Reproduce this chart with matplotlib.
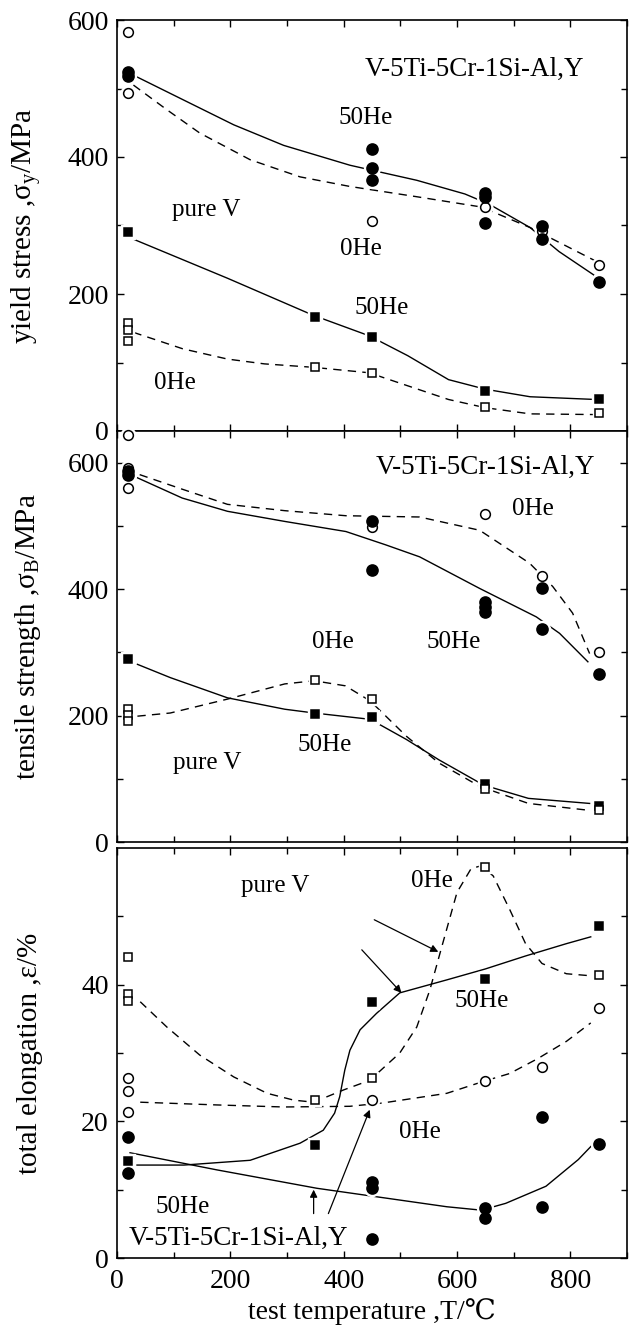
import matplotlib
matplotlib.use("Agg")
import matplotlib.pyplot as plt
from matplotlib.ticker import MultipleLocator, FixedLocator

plt.rcParams['font.family'] = ['Liberation Serif', 'DejaVu Serif', 'DejaVu Sans']
plt.rcParams['mathtext.fontset'] = 'custom'
plt.rcParams['mathtext.rm'] = 'Liberation Serif'
plt.rcParams['mathtext.it'] = 'Liberation Serif:italic'

# ---------------- Panel 1: yield stress ----------------
ys_alloy0_T = [20, 20, 450, 650, 750, 850]
ys_alloy0_v = [583, 494, 307, 327, 292, 243]
ys_alloy50_T = [20, 20, 450, 450, 450, 650, 650, 650, 750, 750, 850]
ys_alloy50_v = [524, 518, 411, 384, 366, 347, 341, 304, 299, 280, 217]
ys_V50_T = [20, 350, 450, 650, 850]
ys_V50_v = [290, 166, 137, 58, 46]
ys_V0_T = [20, 20, 20, 350, 450, 650, 850]
ys_V0_v = [157, 147, 132, 93, 85, 35, 27]

ys_alloy50_curve_T = [35, 118, 206, 294, 411, 459, 529, 614, 657, 729, 780, 841]
ys_alloy50_curve_v = [517, 483, 447, 417, 388, 379, 366, 346, 331, 297, 262, 228]
ys_alloy0_curve_T = [29, 88, 146, 235, 323, 411, 529, 643, 729, 845]
ys_alloy0_curve_v = [505, 469, 435, 396, 371, 357, 342, 327, 297, 248]
ys_V50_curve_T = [29, 195, 346, 445, 513, 585, 650, 729, 845]
ys_V50_curve_v = [280, 223, 169, 139, 110, 75, 61, 50, 46]
ys_V0_curve_T = [29, 116, 195, 260, 346, 445, 513, 585, 650, 729, 845]
ys_V0_curve_v = [144, 120, 105, 98, 93, 85, 66, 46, 34, 25, 24]

# ---------------- Panel 2: tensile strength ----------------
ts_alloy0_T = [20, 20, 20, 450, 650, 750, 850]
ts_alloy0_v = [643, 592, 560, 498, 518, 420, 300]
ts_alloy50_T = [20, 20, 450, 450, 650, 650, 650, 750, 750, 850]
ts_alloy50_v = [587, 581, 508, 430, 380, 372, 363, 401, 337, 266]
ts_V50_T = [20, 350, 450, 650, 850]
ts_V50_v = [289, 203, 198, 92, 57]
ts_V0_T = [20, 20, 20, 350, 450, 650, 850]
ts_V0_v = [210, 201, 192, 256, 226, 84, 51]

ts_alloy50_curve_T = [36, 115, 195, 296, 404, 474, 534, 640, 740, 781, 831]
ts_alloy50_curve_v = [576, 544, 523, 507, 491, 470, 451, 401, 356, 330, 285]
ts_alloy0_curve_T = [40, 115, 195, 296, 404, 534, 640, 728, 769, 804, 834]
ts_alloy0_curve_v = [581, 558, 534, 524, 516, 514, 493, 441, 404, 362, 298]
ts_V50_curve_T = [36, 94, 195, 296, 348, 447, 511, 568, 647, 726, 834]
ts_V50_curve_v = [281, 260, 228, 210, 204, 194, 162, 130, 90, 69, 61]
ts_V0_curve_T = [36, 94, 195, 296, 348, 403, 447, 511, 568, 640, 726, 834]
ts_V0_curve_v = [199, 204, 226, 250, 255, 247, 223, 167, 125, 88, 61, 50]

# ---------------- Panel 3: total elongation ----------------
el_V0_T = [20, 20, 20, 350, 450, 650, 850]
el_V0_v = [44.0, 38.7, 37.6, 23.1, 26.3, 57.2, 41.4]
el_V50_T = [20, 350, 450, 650, 850]
el_V50_v = [14.2, 16.5, 37.5, 40.8, 48.6]
el_alloy0_T = [20, 20, 20, 450, 650, 750, 850]
el_alloy0_v = [26.4, 24.5, 21.3, 23.1, 25.9, 28.0, 36.6]
el_alloy50_T = [20, 20, 450, 450, 450, 650, 650, 750, 750, 850]
el_alloy50_v = [17.7, 12.5, 11.1, 10.2, 2.8, 7.3, 5.8, 20.7, 7.4, 16.7]

el_V0_curve_T = [41, 88, 146, 206, 265, 312, 347, 400, 446, 499, 529, 552, 573, 600, 625, 643, 664, 693, 721, 750, 793, 836]
el_V0_curve_v = [37.5, 33.8, 29.7, 26.5, 24.1, 23.1, 22.8, 24.6, 26.0, 30.0, 33.8, 39.2, 45.5, 53.5, 57.0, 57.4, 55.9, 51.0, 46.0, 43.1, 41.6, 41.3]
el_alloy0_curve_T = [41, 176, 294, 411, 470, 582, 645, 693, 743, 793, 836]
el_alloy0_curve_v = [22.8, 22.4, 22.1, 22.2, 22.7, 24.1, 25.8, 27.0, 29.2, 31.7, 34.4]
el_V50_curve_T = [35, 118, 235, 323, 364, 384, 393, 402, 411, 429, 458, 499, 582, 650, 721, 793, 836]
el_V50_curve_v = [13.6, 13.6, 14.3, 16.8, 18.7, 21.2, 23.6, 27.5, 30.4, 33.4, 35.8, 38.8, 40.7, 42.3, 44.2, 46.0, 47.0]
el_alloy50_curve_T = [23, 176, 353, 582, 643, 686, 757, 814, 843]
el_alloy50_curve_v = [15.4, 12.9, 10.2, 7.5, 7.0, 8.0, 10.5, 14.4, 16.9]

LINE_KW = dict(color='black', lw=1.0, zorder=2)
DASH_KW = dict(color='black', lw=1.0, ls=(0, (6, 4.5)), zorder=2)


def markers(ax, T, v, marker, filled, size):
    ax.plot(T, v, ls='none', marker=marker, ms=size + 3.5, mfc='white', mec='white',
            zorder=3, clip_on=False)
    ax.plot(T, v, ls='none', marker=marker, ms=size,
            mfc='black' if filled else 'white', mec='black', mew=1.1,
            zorder=4, clip_on=False)


def style(ax, ymax, ymajor, yminor, show_x):
    ax.set_xlim(0, 900)
    ax.set_ylim(0, ymax)
    ax.xaxis.set_major_locator(MultipleLocator(200))
    ax.xaxis.set_minor_locator(MultipleLocator(100))
    ax.yaxis.set_major_locator(FixedLocator(ymajor))
    ax.yaxis.set_minor_locator(FixedLocator(yminor))
    ax.tick_params(which='both', direction='in', top=True, right=True, width=1.0)
    ax.tick_params(which='major', length=5, labelsize=20, pad=6)
    ax.tick_params(axis='x', which='major', pad=8)
    ax.tick_params(which='minor', length=4)
    if not show_x:
        ax.tick_params(axis='x', labelbottom=False)
    for s in ax.spines.values():
        s.set_linewidth(1.2)
    ax.yaxis.set_label_coords(-0.145, 0.5)


fig = plt.figure(figsize=(6.35, 13.25), dpi=100)
L, W = 117 / 635, 510 / 635
ax1 = fig.add_axes([L, 1 - 431 / 1325, W, 411 / 1325])
ax2 = fig.add_axes([L, 1 - 842 / 1325, W, 411 / 1325])
ax3 = fig.add_axes([L, 1 - 1258 / 1325, W, 410 / 1325])

TXT = 18
ALLOY = 19.5

# Panel 1
ax1.plot(ys_alloy50_curve_T, ys_alloy50_curve_v, **LINE_KW)
ax1.plot(ys_alloy0_curve_T, ys_alloy0_curve_v, **DASH_KW)
ax1.plot(ys_V50_curve_T, ys_V50_curve_v, **LINE_KW)
ax1.plot(ys_V0_curve_T, ys_V0_curve_v, **DASH_KW)
markers(ax1, ys_alloy0_T, ys_alloy0_v, 'o', False, 7)
markers(ax1, ys_alloy50_T, ys_alloy50_v, 'o', True, 8)
markers(ax1, ys_V50_T, ys_V50_v, 's', True, 6)
markers(ax1, ys_V0_T, ys_V0_v, 's', False, 5.5)
style(ax1, 600, [0, 200, 400, 600], [100, 300, 500], False)
ax1.set_ylabel('yield stress ,σ$_{\\mathrm{y}}$/MPa', fontsize=21)
ax1.text(437, 528, 'V-5Ti-5Cr-1Si-Al,Y', fontsize=ALLOY, ha='left', va='center')
ax1.text(438, 457, '50He', fontsize=TXT, ha='center', va='center')
ax1.text(157, 322, 'pure V', fontsize=TXT, ha='center', va='center')
ax1.text(430, 265, '0He', fontsize=TXT, ha='center', va='center')
ax1.text(467, 179, '50He', fontsize=TXT, ha='center', va='center')
ax1.text(103, 70, '0He', fontsize=TXT, ha='center', va='center')

# Panel 2
ax2.plot(ts_alloy50_curve_T, ts_alloy50_curve_v, **LINE_KW)
ax2.plot(ts_alloy0_curve_T, ts_alloy0_curve_v, **DASH_KW)
ax2.plot(ts_V50_curve_T, ts_V50_curve_v, **LINE_KW)
ax2.plot(ts_V0_curve_T, ts_V0_curve_v, **DASH_KW)
markers(ax2, ts_alloy0_T, ts_alloy0_v, 'o', False, 7)
markers(ax2, ts_alloy50_T, ts_alloy50_v, 'o', True, 8)
markers(ax2, ts_V50_T, ts_V50_v, 's', True, 6)
markers(ax2, ts_V0_T, ts_V0_v, 's', False, 5.5)
style(ax2, 650, [0, 200, 400, 600], [100, 300, 500], False)
ax2.set_ylabel('tensile strength ,σ$_{\\mathrm{B}}$/MPa', fontsize=21)
ax2.text(457, 592, 'V-5Ti-5Cr-1Si-Al,Y', fontsize=ALLOY, ha='left', va='center')
ax2.text(734, 526, '0He', fontsize=TXT, ha='center', va='center')
ax2.text(381, 316, '0He', fontsize=TXT, ha='center', va='center')
ax2.text(595, 316, '50He', fontsize=TXT, ha='center', va='center')
ax2.text(367, 154, '50He', fontsize=TXT, ha='center', va='center')
ax2.text(160, 125, 'pure V', fontsize=TXT, ha='center', va='center')

# Panel 3
ax3.plot(el_V50_curve_T, el_V50_curve_v, **LINE_KW)
ax3.plot(el_alloy50_curve_T, el_alloy50_curve_v, **LINE_KW)
ax3.plot(el_V0_curve_T, el_V0_curve_v, **DASH_KW)
ax3.plot(el_alloy0_curve_T, el_alloy0_curve_v, **DASH_KW)
markers(ax3, el_V0_T, el_V0_v, 's', False, 5.5)
markers(ax3, el_V50_T, el_V50_v, 's', True, 6)
markers(ax3, el_alloy0_T, el_alloy0_v, 'o', False, 7)
markers(ax3, el_alloy50_T, el_alloy50_v, 'o', True, 8)
style(ax3, 60, [0, 20, 40], [10, 30, 50], True)
ax3.set_ylabel('total elongation ,ε/%', fontsize=21)
ax3.set_xlabel('test temperature ,T/℃', fontsize=20, labelpad=3)
ax3.text(280, 54.4, 'pure V', fontsize=TXT, ha='center', va='center')
ax3.text(555, 55.2, '0He', fontsize=TXT, ha='center', va='center')
ax3.text(644, 37.6, '50He', fontsize=TXT, ha='center', va='center')
ax3.text(534, 18.4, '0He', fontsize=TXT, ha='center', va='center')
ax3.text(116, 7.5, '50He', fontsize=TXT, ha='center', va='center')
ax3.text(21, 2.8, 'V-5Ti-5Cr-1Si-Al,Y', fontsize=ALLOY, ha='left', va='center')

ARW = dict(arrowstyle='-|>', color='black', lw=0.9, mutation_scale=11, shrinkA=0, shrinkB=0)
ax3.annotate('', xy=(567, 44.8), xytext=(454, 49.5), arrowprops=ARW)
ax3.annotate('', xy=(502, 38.8), xytext=(432, 45.1), arrowprops=ARW)
ax3.annotate('', xy=(347, 10.0), xytext=(347, 6.5), arrowprops=ARW)
ax3.annotate('', xy=(446, 21.7), xytext=(373, 6.5), arrowprops=ARW)

fig.savefig('out.png', dpi=100)
